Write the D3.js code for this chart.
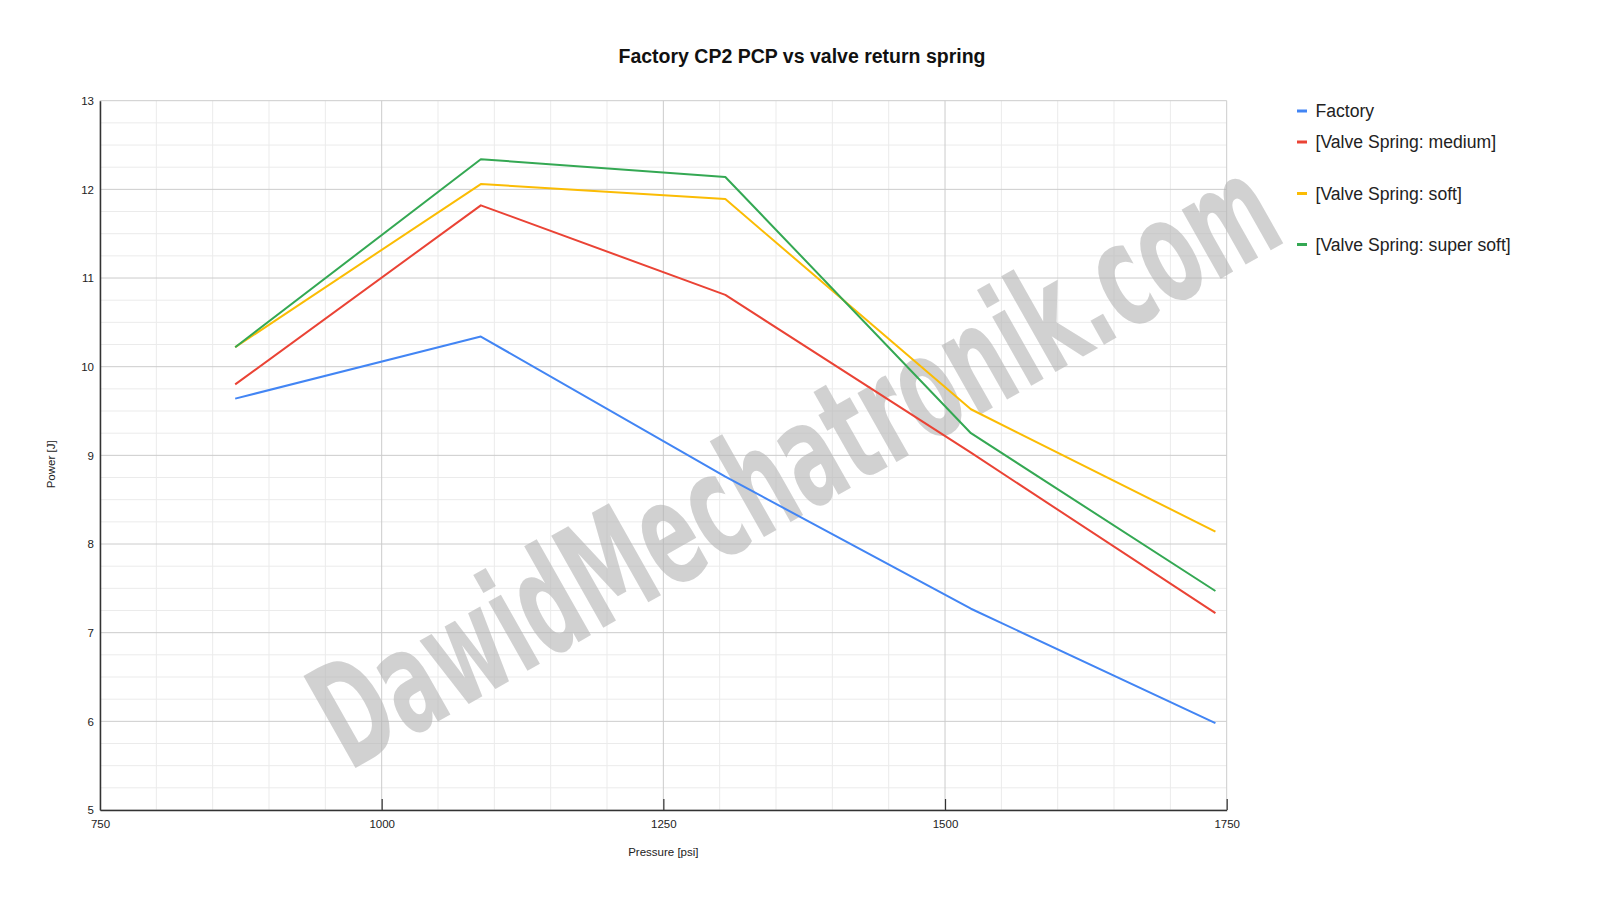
<!DOCTYPE html>
<html>
<head>
<meta charset="utf-8">
<script src="https://cdn.jsdelivr.net/npm/d3@7"></script>
<style>
  html, body { margin: 0; padding: 0; background: #fff; }
  svg { display: block; font-family: Arial, "Liberation Sans", sans-serif; }
</style>
</head>
<body>
<svg id="chart" width="1600" height="903"></svg>
<script>
// ---- data ----
const pressure = [870, 1088, 1305, 1523, 1740];
const factory = [9.64, 10.34, 8.76, 7.27, 5.98];
const springMedium = [9.80, 11.82, 10.81, 9.03, 7.22];
const springSoft = [10.22, 12.06, 11.89, 9.52, 8.14];
const springSuperSoft = [10.22, 12.34, 12.14, 9.25, 7.47];
const seriesNames = ["Factory", "[Valve Spring: medium]", "[Valve Spring: soft]", "[Valve Spring: super soft]"];
const seriesColors = ["#4285F4", "#EA4335", "#FBBC04", "#34A853"];
const xTicks = [750, 1000, 1250, 1500, 1750];
const yTicks = [5, 6, 7, 8, 9, 10, 11, 12, 13];
const titleText = "Factory CP2 PCP vs valve return spring";
const xTitle = "Pressure [psi]";
const yTitle = "Power [J]";
const watermark = "DawidMechatronik.com";

const seriesValues = [factory, springMedium, springSoft, springSuperSoft];

const svg = d3.select("#chart");
const pLeft = 100, pRight = 1226.7, pTop = 100.7, pBottom = 810;

const x = d3.scaleLinear().domain([750, 1750]).range([pLeft, pRight]);
const y = d3.scaleLinear().domain([5, 13]).range([pBottom, pTop]);

// minor grid
const xMinor = d3.range(750, 1751, 50).filter(v => !xTicks.includes(v));
const yMinor = d3.range(5, 13.001, 0.25).filter(v => !yTicks.includes(v));
const grid = svg.append("g");
grid.selectAll("line.xm").data(xMinor).join("line")
  .attr("x1", d => x(d)).attr("x2", d => x(d)).attr("y1", pTop).attr("y2", pBottom)
  .attr("stroke", "#ebebeb").attr("stroke-width", 1);
grid.selectAll("line.ym").data(yMinor).join("line")
  .attr("x1", pLeft).attr("x2", pRight).attr("y1", d => y(d)).attr("y2", d => y(d))
  .attr("stroke", "#ebebeb").attr("stroke-width", 1);
// major grid
grid.selectAll("line.xM").data(xTicks).join("line")
  .attr("x1", d => x(d)).attr("x2", d => x(d)).attr("y1", pTop).attr("y2", pBottom)
  .attr("stroke", "#cccccc").attr("stroke-width", 1);
grid.selectAll("line.yM").data(yTicks).join("line")
  .attr("x1", pLeft).attr("x2", pRight).attr("y1", d => y(d)).attr("y2", d => y(d))
  .attr("stroke", "#cccccc").attr("stroke-width", 1);

// watermark
svg.append("text")
  .attr("transform", "translate(794,462) rotate(-29.5)")
  .attr("text-anchor", "middle")
  .attr("dominant-baseline", "central")
  .attr("font-family", "'Liberation Sans Narrow', 'DejaVu Sans Condensed', Arial, sans-serif")
  .attr("font-weight", "bold")
  .attr("font-size", 145)
  .attr("fill", "#b4b4b4")
  .attr("fill-opacity", 0.62)
  .attr("textLength", 1080)
  .attr("lengthAdjust", "spacingAndGlyphs")
  .text(watermark);

// axes
const xAxis = d3.axisBottom(x).tickValues(xTicks).tickSize(0).tickPadding(0).tickFormat(d3.format("d"));
const gx = svg.append("g").attr("transform", `translate(0,${pBottom})`).call(xAxis);
gx.select(".domain").attr("stroke", "#333").attr("stroke-width", 1.5);
gx.selectAll("text").attr("font-size", 11.5).attr("fill", "#222")
  .attr("font-family", "Arial, 'Liberation Sans', sans-serif").attr("y", 9.5);
gx.selectAll(".tick").filter(d => d !== 750).append("line")
  .attr("y1", 0).attr("y2", -11).attr("stroke", "#333").attr("stroke-width", 1.2);

const yAxis = d3.axisLeft(y).tickValues(yTicks).tickSize(0).tickPadding(6);
const gy = svg.append("g").attr("transform", `translate(${pLeft},0)`).call(yAxis);
gy.select(".domain").attr("stroke", "#333").attr("stroke-width", 1.5);
gy.selectAll("text").attr("font-size", 11.5).attr("fill", "#222")
  .attr("font-family", "Arial, 'Liberation Sans', sans-serif");

// series lines
const line = d3.line().x((d, i) => x(pressure[i])).y(d => y(d));
svg.append("g").selectAll("path").data(seriesValues).join("path")
  .attr("d", d => line(d))
  .attr("fill", "none")
  .attr("stroke", (d, i) => seriesColors[i])
  .attr("stroke-width", 2)
  .attr("stroke-linejoin", "round");

// title
svg.append("text").attr("x", 802).attr("y", 63)
  .attr("text-anchor", "middle").attr("font-size", 19.5).attr("font-weight", "bold")
  .attr("fill", "#111").text(titleText);

// axis titles
svg.append("text").attr("x", (pLeft + pRight) / 2).attr("y", 856)
  .attr("text-anchor", "middle").attr("font-size", 11.5).attr("fill", "#222").text(xTitle);
svg.append("text").attr("transform", `translate(55,${(pTop + pBottom) / 2 + 9}) rotate(-90)`)
  .attr("text-anchor", "middle").attr("font-size", 11.5).attr("fill", "#222").text(yTitle);

// legend
const legendY = [111, 142, 193.5, 244.5];
const lg = svg.append("g").selectAll("g").data(seriesNames).join("g")
  .attr("transform", (d, i) => `translate(1297,${legendY[i]})`);
lg.append("line").attr("x1", 0).attr("x2", 10).attr("y1", 0).attr("y2", 0)
  .attr("stroke", (d, i) => seriesColors[i]).attr("stroke-width", 3);
lg.append("text").attr("x", 18.5).attr("y", 0).attr("dy", "0.36em")
  .attr("font-size", 17.6).attr("fill", "#222").text(d => d);
</script>
</body>
</html>
